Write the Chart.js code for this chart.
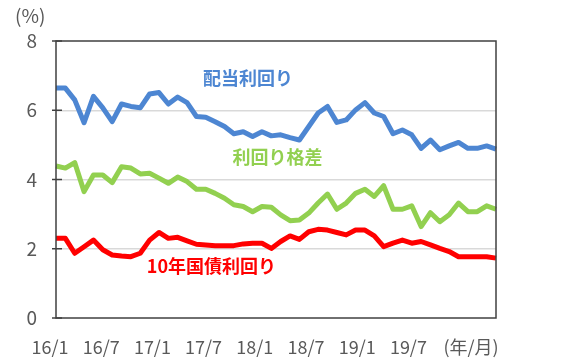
<!DOCTYPE html>
<html>
<head>
<meta charset="utf-8">
<script src="https://cdn.jsdelivr.net/npm/chart.js@4"></script>
<style>
  html, body { margin: 0; padding: 0; background: #fff; }
  #wrap { width: 572px; height: 359px; position: relative; }
</style>
</head>
<body>
<div id="wrap"><canvas id="myChart"></canvas></div>
<script>
// monthly, 2016/1 - 2019/12
var months = [
  '16/1','16/2','16/3','16/4','16/5','16/6','16/7','16/8','16/9','16/10','16/11','16/12',
  '17/1','17/2','17/3','17/4','17/5','17/6','17/7','17/8','17/9','17/10','17/11','17/12',
  '18/1','18/2','18/3','18/4','18/5','18/6','18/7','18/8','18/9','18/10','18/11','18/12',
  '19/1','19/2','19/3','19/4','19/5','19/6','19/7','19/8','19/9','19/10','19/11','19/12'
];
var dividendYield = [
  6.64, 6.64, 6.30, 5.64, 6.40, 6.07, 5.67, 6.18, 6.11, 6.07, 6.47, 6.51,
  6.18, 6.38, 6.22, 5.82, 5.80, 5.67, 5.53, 5.32, 5.38, 5.24, 5.38, 5.26,
  5.29, 5.21, 5.14, 5.53, 5.92, 6.11, 5.65, 5.72, 6.01, 6.22, 5.92, 5.82,
  5.32, 5.43, 5.29, 4.90, 5.14, 4.86, 4.97, 5.07, 4.90, 4.90, 4.97, 4.88
];
var yieldSpread = [
  4.39, 4.33, 4.49, 3.65, 4.13, 4.13, 3.91, 4.37, 4.33, 4.16, 4.18, 4.04,
  3.89, 4.07, 3.94, 3.72, 3.72, 3.60, 3.46, 3.27, 3.22, 3.07, 3.22, 3.20,
  2.98, 2.81, 2.83, 3.03, 3.32, 3.58, 3.14, 3.32, 3.60, 3.72, 3.51, 3.82,
  3.14, 3.14, 3.24, 2.64, 3.04, 2.78, 2.98, 3.32, 3.07, 3.07, 3.24, 3.14
];
var bondYield = [
  2.30, 2.30, 1.87, 2.06, 2.25, 1.97, 1.82, 1.79, 1.77, 1.87, 2.25, 2.47,
  2.30, 2.33, 2.23, 2.13, 2.11, 2.09, 2.09, 2.09, 2.14, 2.16, 2.16, 2.01,
  2.21, 2.37, 2.27, 2.49, 2.56, 2.54, 2.47, 2.40, 2.54, 2.54, 2.37, 2.06,
  2.16, 2.25, 2.16, 2.21, 2.11, 2.01, 1.92, 1.77, 1.77, 1.77, 1.77, 1.73
];
var xTickLabels = ['16/1','16/7','17/1','17/7','18/1','18/7','19/1','19/7','(年/月)'];
var seriesNames = ['配当利回り', '利回り格差', '10年国債利回り'];

var blue = '#4D86D2', green = '#92D050', red = '#FF0000';
var cjk = '"Noto Sans CJK JP", "Noto Sans", sans-serif';

// where the series names sit (category index, value)
var notes = [
  { text: seriesNames[0], color: blue,  at: [20.5, 6.93] },
  { text: seriesNames[1], color: green, at: [23.66, 4.65] },
  { text: seriesNames[2], color: red,   at: [16.6, 1.50] }
];

var frame = {
  id: 'frame',
  afterDatasetsDraw: function (chart) {
    var ctx = chart.ctx, a = chart.chartArea, ys = chart.scales.y, xs = chart.scales.x;
    ctx.save();
    // box round the plot
    ctx.strokeStyle = '#404040';
    ctx.lineWidth = 1.5;
    ctx.strokeRect(a.left, a.top, a.right - a.left, a.bottom - a.top);
    // cross tick marks on the value axis
    [0, 2, 4, 6, 8].forEach(function (v) {
      var y = ys.getPixelForValue(v);
      ctx.beginPath();
      ctx.moveTo(a.left - 4, y);
      ctx.lineTo(a.left + 6, y);
      ctx.stroke();
    });
    // unit
    ctx.fillStyle = '#595959';
    ctx.font = '19px ' + cjk;
    ctx.textBaseline = 'middle';
    ctx.textAlign = 'left';
    ctx.fillText('(%)', 15, 16);
    // category text row
    ctx.font = '18px ' + cjk;
    ctx.textAlign = 'center';
    xTickLabels.forEach(function (t, k) {
      var cx = k < xTickLabels.length - 1 ? a.left - 6 + k * 51.2 : a.right - 25;
      ctx.fillText(t, cx, 347);
    });
    // series names
    ctx.font = 'bold 18px ' + cjk;
    notes.forEach(function (n) {
      ctx.fillStyle = n.color;
      ctx.fillText(n.text, xs.getPixelForValue(n.at[0]), ys.getPixelForValue(n.at[1]));
    });
    ctx.restore();
  }
};

function lineSet(label, values, color) {
  return {
    label: label,
    data: values,
    borderColor: color,
    backgroundColor: color,
    borderWidth: 5,
    pointRadius: 0,
    tension: 0,
    borderJoinStyle: 'round',
    fill: false
  };
}

var ctx = document.getElementById('myChart');
var myChart = new Chart(ctx, {
  type: 'line',
  data: {
    labels: months,
    datasets: [
      lineSet(seriesNames[0], dividendYield, blue),
      lineSet(seriesNames[1], yieldSpread, green),
      lineSet(seriesNames[2], bondYield, red)
    ]
  },
  options: {
    responsive: true,
    maintainAspectRatio: false,
    animation: false,
    layout: { padding: { top: 41, right: 76, bottom: 41, left: 0 } },
    plugins: { legend: { display: false }, tooltip: { enabled: false } },
    scales: {
      x: { display: false, offset: false },
      y: {
        min: 0,
        max: 8,
        ticks: { stepSize: 2, color: '#595959', font: { size: 19, family: cjk }, padding: 19 },
        grid: {
          drawTicks: false,
          lineWidth: 1.5,
          color: function (c) { return (c.tick.value === 0 || c.tick.value === 8) ? 'rgba(0,0,0,0)' : '#d9d9d9'; }
        },
        border: { display: false },
        afterFit: function (s) { s.width = 56; }
      }
    }
  },
  plugins: [frame]
});
</script>
</body>
</html>
